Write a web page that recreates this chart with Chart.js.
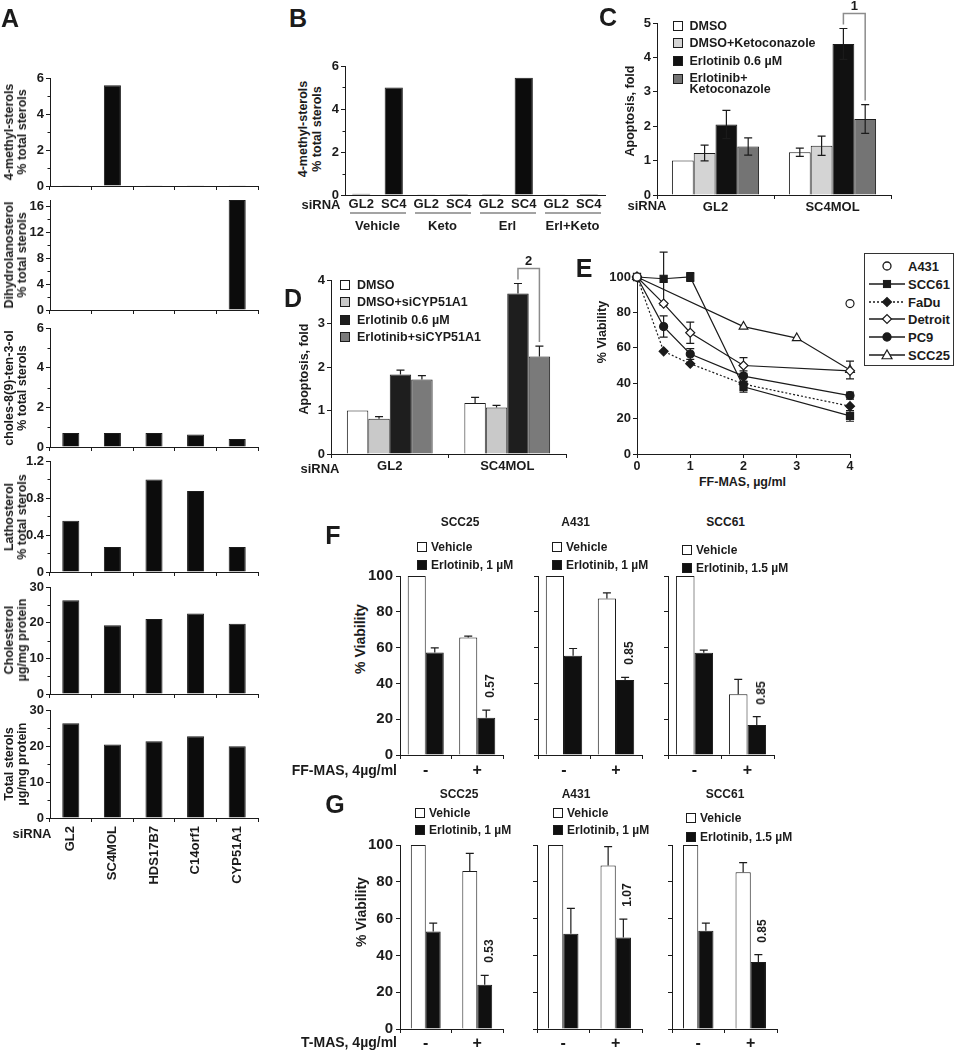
<!DOCTYPE html>
<html>
<head>
<meta charset="utf-8">
<title>Sterol panels</title>
<script src="https://cdn.jsdelivr.net/npm/chart.js@4.4.1/dist/chart.umd.min.js"></script>
<style>
  html, body { margin: 0; padding: 0; background: #fff; }
  #page { position: relative; width: 955px; height: 1050px; overflow: hidden; background: #fff; }
  #page canvas { position: absolute; }
  .lbl { position: absolute; white-space: nowrap; line-height: 1.05; color: #1b1b1b; text-align: center; }
  .sq { position: absolute; width: 10px; height: 10px; border: 1px solid #1b1b1b; box-sizing: border-box; }
</style>
</head>
<body>
<div id="page"></div>
<script>
// ---- A: sterol profiles per siRNA ----
const sirnaA = ['GL2', 'SC4MOL', 'HDS17B7', 'C14orf1', 'CYP51A1'];
const methylSterolsA = [0.04, 5.6, 0.04, 0.04, 0.04];
const dihydrolanosterolA = [0, 0, 0, 0, 17];
const cholesTenolA = [0.7, 0.7, 0.7, 0.63, 0.4];
const lathosterolA = [0.555, 0.27, 1.0, 0.875, 0.27];
const cholesterolA = [26.3, 19.3, 21.0, 22.6, 19.7];
const totalSterolsA = [26.3, 20.4, 21.3, 22.7, 19.9];

// ---- B: 4-methyl sterols with drugs ----
const sirnaB = ['GL2', 'SC4', 'GL2', 'SC4', 'GL2', 'SC4', 'GL2', 'SC4'];
const treatB = ['Vehicle', 'Keto', 'Erl', 'Erl+Keto'];
const methylSterolsB = [0.06, 5.0, 0.03, 0.05, 0.05, 5.45, 0.03, 0.05];

// ---- C / D: apoptosis ----
const sirnaCD = ['GL2', 'SC4MOL'];
const seriesC = ['DMSO', 'DMSO+Ketoconazole', 'Erlotinib 0.6 µM', 'Erlotinib+<br>Ketoconazole'];
const dmsoC = [1.0, 1.24], dmsoErrC = [0, 0.12];
const dmsoKetoC = [1.22, 1.43], dmsoKetoErrC = [0.23, 0.28];
const erlC = [2.05, 4.39], erlErrC = [0.41, 0.45];
const erlKetoC = [1.41, 2.21], erlKetoErrC = [0.25, 0.42];

const seriesD = ['DMSO', 'DMSO+siCYP51A1', 'Erlotinib 0.6 µM', 'Erlotinib+siCYP51A1'];
const dmsoD = [1.0, 1.17], dmsoErrD = [0, 0.13];
const dmsoSiD = [0.81, 1.07], dmsoSiErrD = [0.05, 0.05];
const erlD = [1.83, 3.69], erlErrD = [0.1, 0.23];
const erlSiD = [1.71, 2.24], erlSiErrD = [0.09, 0.24];

// ---- E: FF-MAS dose response ----
const doseE = [0, 0.5, 1, 2, 3, 4];
const cellsE = ['A431', 'SCC61', 'FaDu', 'Detroit', 'PC9', 'SCC25'];
const viabA431 = [100, null, null, null, null, 85];
const viabSCC61 = [100, 99, 100, 38, null, 21.5], errSCC61 = [0, 15, 2.5, 3, null, 3];
const viabFaDu = [100, 58, 51, 39.5, null, 27], errFaDu = [0, 0, 0, 0, null, 0];
const viabDetroit = [100, 85, 68.5, 50, null, 47], errDetroit = [0, 0, 6, 4.5, null, 0];
const viabPC9 = [100, 72, 56.5, 44, null, 33], errPC9 = [0, 6, 3, 3, null, 2];
const viabSCC25 = [100, null, null, 72, 65.5, 47.5], errSCC25 = [0, null, null, 0, 0, 5];

// ---- F / G: viability with sterol add-back ----
const linesFG = ['SCC25', 'A431', 'SCC61'];
const erlDoseFG = ['Erlotinib, 1 µM', 'Erlotinib, 1 µM', 'Erlotinib, 1.5 µM'];
const masFG = ['-', '+'];
const vehF = [[100, 65.7], [100, 87.4], [100, 34.0]];
const vehErrF = [[0, 0.7], [0, 3.2], [0, 8.2]];
const erlF = [[57.3, 20.8], [55.4, 41.9], [57.1, 16.7]];
const erlErrF = [[2.6, 4.3], [4.1, 1.5], [1.5, 4.7]];
const ratioF = ['0.57', '0.85', '0.85'];
const vehG = [[100, 85.9], [100, 88.8], [100, 85.2]];
const vehErrG = [[0, 9.6], [0, 10.3], [0, 5.2]];
const erlG = [[53.0, 24.1], [51.7, 49.7], [53.4, 36.4]];
const erlErrG = [[4.5, 5.0], [13.9, 10.0], [4.1, 4.0]];
const ratioG = ['0.53', '1.07', '0.85'];

// ---------------------------------------------------------------
const page = document.getElementById('page');
const INK = '#1b1b1b';
const SANS = '"Liberation Sans", Arial, Helvetica, sans-serif';
const NARROW = '"Liberation Sans Narrow", "Arial Narrow", "Liberation Sans", sans-serif';

function font(size, family) {
  return { family: family || SANS, size: size, weight: 'bold' };
}

function label(html, x, y, o) {
  o = o || {};
  const d = document.createElement('div');
  d.className = 'lbl';
  d.innerHTML = html;
  d.style.left = x + 'px';
  d.style.top = y + 'px';
  d.style.font = 'bold ' + (o.size || 13) + 'px ' + (o.family || SANS);
  if (o.lh) d.style.lineHeight = o.lh;
  const ax = o.align === 'left' ? '0' : (o.align === 'right' ? '-100%' : '-50%');
  d.style.textAlign = o.align || 'center';
  d.style.transform = 'translate(' + ax + ',-50%)' + (o.rot ? ' rotate(' + o.rot + 'deg)' : '');
  page.appendChild(d);
  return d;
}

function square(x, y, fill) {
  const s = document.createElement('div');
  s.className = 'sq';
  s.style.left = x + 'px';
  s.style.top = (y - 5) + 'px';
  s.style.background = fill;
  page.appendChild(s);
}

function hline(x0, x1, y, color, w) {
  const s = document.createElement('div');
  s.style.cssText = 'position:absolute;left:' + x0 + 'px;top:' + (y - w / 2) + 'px;width:' + (x1 - x0) + 'px;height:' + w + 'px;background:' + color;
  page.appendChild(s);
}

// canvas so that the plot area lands on rect = [left, top, right, bottom]
function canvasFor(rect, m) {
  const c = document.createElement('canvas');
  const w = Math.round(rect[2] - rect[0] + m.l + m.r);
  const h = Math.round(rect[3] - rect[1] + m.t + m.b);
  c.width = w; c.height = h;
  c.style.width = w + 'px'; c.style.height = h + 'px';
  c.style.left = (rect[0] - m.l) + 'px';
  c.style.top = (rect[1] - m.t) + 'px';
  page.appendChild(c);
  return c;
}

function offX(chart) { return parseFloat(chart.canvas.style.left); }
function offY(chart) { return parseFloat(chart.canvas.style.top); }

function yScale(min, max, step, width, o) {
  o = o || {};
  return {
    type: 'linear', min: min, max: max,
    border: { display: true, color: INK, width: 1 },
    grid: { display: true, drawOnChartArea: false, drawTicks: true, tickLength: 4, color: INK },
    ticks: { stepSize: step, includeBounds: false, display: o.labels !== false, color: INK, padding: o.pad == null ? 2 : o.pad, font: o.font || font(13) },
    afterFit: function (s) { s.width = width; s.paddingTop = 0; s.paddingBottom = 0; }
  };
}

function xCategory(height, o) {
  o = o || {};
  return {
    type: 'category', offset: true,
    border: { display: true, color: INK, width: 1 },
    grid: { display: true, offset: true, drawOnChartArea: false, drawTicks: o.ticks !== false, tickLength: 4, color: INK },
    ticks: { display: o.labels !== false, color: INK, padding: o.pad == null ? 2 : o.pad, autoSkip: false,
             maxRotation: o.rot || 0, minRotation: o.rot || 0, font: o.font || font(13) },
    afterFit: function (s) { s.height = height; s.paddingLeft = 0; s.paddingRight = 0; }
  };
}

function baseOptions(m, scales, pluginOpts) {
  const plugins = { legend: { display: false }, tooltip: { enabled: false } };
  Object.assign(plugins, pluginOpts || {});
  return {
    responsive: false, animation: false, devicePixelRatio: 1, events: [],
    layout: { padding: { top: m.t, right: m.r, left: 0, bottom: 0 } },
    plugins: plugins,
    scales: scales
  };
}

// error bars from dataset.err, drawn through the y scale
function drawErrors(chart, opts) {
  const ctx = chart.ctx, ys = chart.scales.y;
  chart.data.datasets.forEach(function (ds, di) {
    if (!ds.err) return;
    const meta = chart.getDatasetMeta(di);
    ctx.save();
    ctx.strokeStyle = INK;
    ctx.lineWidth = 1.2;
    meta.data.forEach(function (el, i) {
      const e = ds.err[i];
      if (!e) return;
      const raw = ds.data[i];
      const v = typeof raw === 'object' ? raw.y : raw;
      const cap = opts.cap || 4;
      const top = ys.getPixelForValue(v + e);
      const bot = opts.both ? ys.getPixelForValue(v - e) : el.y;
      ctx.beginPath();
      ctx.moveTo(el.x, top); ctx.lineTo(el.x, bot);
      ctx.moveTo(el.x - cap, top); ctx.lineTo(el.x + cap, top);
      if (opts.both) { ctx.moveTo(el.x - cap, bot); ctx.lineTo(el.x + cap, bot); }
      ctx.stroke();
    });
    ctx.restore();
  });
}
const errorBars = {
  id: 'errorBars',
  beforeDatasetsDraw: function (chart, args, opts) { if (opts.under) drawErrors(chart, opts); },
  afterDatasetsDraw: function (chart, args, opts) { if (!opts.under) drawErrors(chart, opts); }
};

// short unlabelled ticks half way between the labelled ones
const minorTicks = {
  id: 'minorTicks',
  afterDraw: function (chart, args, opts) {
    if (!opts.step) return;
    const ys = chart.scales.y, ctx = chart.ctx, x = chart.chartArea.left;
    ctx.save();
    ctx.strokeStyle = INK;
    ctx.lineWidth = 1;
    for (let v = opts.step; v < ys.max; v += 2 * opts.step) {
      const y = Math.round(ys.getPixelForValue(v)) + 0.5;
      ctx.beginPath(); ctx.moveTo(x - 2.5, y); ctx.lineTo(x, y); ctx.stroke();
    }
    ctx.restore();
  }
};

// significance bracket between two bars
function bracketGeom(chart, o) {
  const ys = chart.scales.y;
  function leg(p) {
    const ds = chart.data.datasets[p[0]];
    const el = chart.getDatasetMeta(p[0]).data[p[1]];
    return { x: el.x, y: ys.getPixelForValue(ds.data[p[1]] + (ds.err ? ds.err[p[1]] : 0)) - o.gap };
  }
  const a = leg(o.a), b = leg(o.b);
  return { a: a, b: b, top: Math.min(a.y, b.y) - o.rise };
}
const bracket = {
  id: 'bracket',
  afterDatasetsDraw: function (chart, args, opts) {
    if (!opts.a) return;
    const g = bracketGeom(chart, opts), ctx = chart.ctx;
    ctx.save();
    ctx.strokeStyle = '#8c8c8c';
    ctx.lineWidth = 1.5;
    ctx.beginPath();
    ctx.moveTo(g.a.x, g.a.y); ctx.lineTo(g.a.x, g.top); ctx.lineTo(g.b.x, g.top); ctx.lineTo(g.b.x, g.b.y);
    ctx.stroke();
    ctx.restore();
  }
};

// ================= Panel A =================
const valuesA = [methylSterolsA, dihydrolanosterolA, cholesTenolA, lathosterolA, cholesterolA, totalSterolsA];
const titlesA = [
  ['4-methyl-sterols', '% total sterols'],
  ['Dihydrolanosterol', '% total sterols'],
  ['choles-8(9)-ten-3-ol', '% total sterols'],
  ['Lathosterol', '% total sterols'],
  ['Cholesterol', 'µg/mg protein'],
  ['Total sterols', 'µg/mg protein']
];
const axisA = [[6, 2], [17, 4], [6, 2], [1.2, 0.4], [30, 10], [30, 10]];
const rowsA = [[78, 186], [200.2, 310], [328, 447], [461, 572], [586.7, 694], [710, 818.3]];

valuesA.forEach(function (vals, k) {
  const last = k === valuesA.length - 1;
  const m = { l: 50, r: 8, t: 10, b: last ? 70 : 8 };
  const rect = [50, rowsA[k][0], 257.5, rowsA[k][1]];
  new Chart(canvasFor(rect, m), {
    type: 'bar',
    data: { labels: sirnaA, datasets: [{ data: vals, backgroundColor: '#0c0c0c', borderColor: INK, borderWidth: 1, barPercentage: 0.41, categoryPercentage: 1 }] },
    options: baseOptions(m, {
      x: xCategory(m.b, { labels: last, rot: 90, pad: 4 }),
      y: yScale(0, axisA[k][0], axisA[k][1], m.l)
    }, { minorTicks: { step: axisA[k][1] / 2 } }),
    plugins: [minorTicks]
  });
  label(titlesA[k].join('<br>'), 15.5, (rect[1] + rect[3]) / 2, { rot: -90, size: 12.5, lh: '13px' });
});
label('A', 10, 18, { size: 25 });
label('siRNA', 32, 833, { size: 13 });

// ================= Panel B =================
(function () {
  const m = { l: 16, r: 6, t: 10, b: 36 };
  const rect = [345, 66, 605, 195];
  const ch = new Chart(canvasFor(rect, m), {
    type: 'bar',
    data: { labels: sirnaB, datasets: [{ data: methylSterolsB, backgroundColor: '#0c0c0c', borderColor: INK, borderWidth: 1, barPercentage: 0.56, categoryPercentage: 1 }] },
    options: baseOptions(m, {
      x: xCategory(m.b, { ticks: false, pad: 2 }),
      y: yScale(0, 6, 2, m.l)
    }, { minorTicks: { step: 1 } }),
    plugins: [minorTicks]
  });
  const xs = ch.scales.x, ox = offX(ch);
  treatB.forEach(function (name, g) {
    const x0 = ox + xs.getPixelForValue(2 * g), x1 = ox + xs.getPixelForValue(2 * g + 1);
    hline(x0 - 11, x1 + 12, 212.5, '#a3a3a3', 2);
    label(name, (x0 + x1) / 2, 225, { size: 13 });
  });
  label('B', 298, 18, { size: 25 });
  label('4-methyl-sterols<br>% total sterols', 309.5, 129, { rot: -90, size: 12.5, lh: '14px' });
  label('siRNA', 321, 204, { size: 13 });
})();

// ================= Panel C / D =================
function apoptosisPanel(cfg) {
  const m = cfg.m, rect = cfg.rect;
  const ch = new Chart(canvasFor(rect, m), {
    type: 'bar',
    data: {
      labels: sirnaCD,
      datasets: cfg.values.map(function (v, i) {
        return { label: cfg.names[i], data: v, err: cfg.errs[i], backgroundColor: cfg.colors[i], borderColor: INK, borderWidth: 1,
                 barPercentage: 1, categoryPercentage: cfg.catPct };
      })
    },
    options: baseOptions(m, {
      x: xCategory(m.b, { pad: 1 }),
      y: yScale(0, cfg.max, 1, m.l)
    }, { errorBars: { both: cfg.both, cap: 4 }, bracket: cfg.bracket }),
    plugins: [errorBars, bracket]
  });
  const g = bracketGeom(ch, cfg.bracket);
  label(cfg.bracketText, offX(ch) + (g.a.x + g.b.x) / 2, offY(ch) + g.top - 8, { size: 13 });
  cfg.names.forEach(function (n, i) {
    square(cfg.legend[0], cfg.legend[1] + i * cfg.legend[2], cfg.colors[i]);
    label(n, cfg.legend[0] + 17, cfg.legend[1] + i * cfg.legend[2] + (n.indexOf('<br>') > 0 ? 5 : 0), { align: 'left', size: 12.5, lh: '11px' });
  });
  return ch;
}

apoptosisPanel({
  rect: [657, 22.7, 891, 194.3], m: { l: 30, r: 6, t: 22, b: 22 }, max: 5,
  names: seriesC, values: [dmsoC, dmsoKetoC, erlC, erlKetoC], errs: [dmsoErrC, dmsoKetoErrC, erlErrC, erlKetoErrC],
  colors: ['#ffffff', '#d4d4d4', '#111111', '#747474'], catPct: 0.745, both: true,
  bracket: { a: [2, 1], b: [3, 1], gap: 4, rise: 11 }, bracketText: '1',
  legend: [672.5, 25.7, 17.7]
});
label('C', 608, 17, { size: 25 });
label('Apoptosis, fold', 629.5, 111, { rot: -90, size: 12.5 });
label('siRNA', 647, 205, { size: 13 });

apoptosisPanel({
  rect: [331, 279.5, 566, 453.3], m: { l: 26, r: 6, t: 26, b: 22 }, max: 4,
  names: seriesD, values: [dmsoD, dmsoSiD, erlD, erlSiD], errs: [dmsoErrD, dmsoSiErrD, erlErrD, erlSiErrD],
  colors: ['#ffffff', '#c9c9c9', '#1e1e1e', '#7a7a7a'], catPct: 0.73, both: false,
  bracket: { a: [2, 1], b: [3, 1], gap: 4, rise: 11 }, bracketText: '2',
  legend: [340, 285, 17.3]
});
label('D', 293, 298, { size: 25 });
label('Apoptosis, fold', 303.5, 369, { rot: -90, size: 12.5 });
label('siRNA', 320, 468, { size: 13 });

// ================= Panel E =================
const styleE = {
  A431:    { pt: 'circle',   fill: false, line: false, r: 4 },
  SCC61:   { pt: 'rect',     fill: true,  line: true,  r: 5 },
  FaDu:    { pt: 'rectRot',  fill: true,  line: true,  r: 4.5, dash: [2, 2] },
  Detroit: { pt: 'rectRot',  fill: false, line: true,  r: 4.5 },
  PC9:     { pt: 'circle',   fill: true,  line: true,  r: 4 },
  SCC25:   { pt: 'triangle', fill: false, line: true,  r: 5 }
};
(function () {
  const viab = [viabA431, viabSCC61, viabFaDu, viabDetroit, viabPC9, viabSCC25];
  const errs = [null, errSCC61, errFaDu, errDetroit, errPC9, errSCC25];
  const m = { l: 40, r: 12, t: 30, b: 20 };
  const rect = [636.7, 276.7, 850, 454];
  const datasets = cellsE.map(function (name, k) {
    const st = styleE[name], pts = [], err = [];
    doseE.forEach(function (d, i) {
      if (viab[k][i] == null) return;
      pts.push({ x: d, y: viab[k][i] });
      err.push(errs[k] ? errs[k][i] : 0);
    });
    return {
      label: name, data: pts, err: err, showLine: st.line, borderColor: INK, borderWidth: 1.2, borderDash: st.dash || [],
      pointStyle: st.pt, pointRadius: st.r, pointBackgroundColor: st.fill ? INK : '#ffffff', pointBorderColor: INK,
      pointBorderWidth: 1.2, clip: false, tension: 0
    };
  });
  const xOpts = {
    type: 'linear', min: 0, max: 4,
    border: { display: true, color: INK, width: 1 },
    grid: { display: true, drawOnChartArea: false, drawTicks: true, tickLength: 4, color: INK },
    ticks: { stepSize: 1, color: INK, padding: 1, font: font(12.5) },
    afterFit: function (s) { s.height = m.b; s.paddingLeft = 0; s.paddingRight = 0; }
  };
  new Chart(canvasFor(rect, m), {
    type: 'scatter',
    data: { datasets: datasets },
    options: baseOptions(m, { x: xOpts, y: yScale(0, 100, 20, m.l, { font: font(13) }) }, { errorBars: { both: true, cap: 4, under: true } }),
    plugins: [errorBars]
  });

  // legend box
  const box = document.createElement('div');
  box.style.cssText = 'position:absolute;left:864px;top:253px;width:90px;height:113px;border:1px solid #333;box-sizing:border-box;';
  page.appendChild(box);
  cellsE.forEach(function (name, k) {
    const st = styleE[name], y = 266 + k * 17.8;
    const w = 36, cx = 18, cy = 7, f = st.fill ? INK : '#fff', r = st.r;
    let s = '<svg width="' + w + '" height="14" style="position:absolute;left:869px;top:' + (y - 7) + 'px">';
    if (st.line) s += '<line x1="0" y1="' + cy + '" x2="' + w + '" y2="' + cy + '" stroke="' + INK + '" stroke-width="1.3"' + (st.dash ? ' stroke-dasharray="2,2"' : '') + '/>';
    if (st.pt === 'circle') s += '<circle cx="' + cx + '" cy="' + cy + '" r="' + r + '" fill="' + f + '" stroke="' + INK + '" stroke-width="1.3"/>';
    if (st.pt === 'rect') s += '<rect x="' + (cx - r * 0.71) + '" y="' + (cy - r * 0.71) + '" width="' + (r * 1.42) + '" height="' + (r * 1.42) + '" fill="' + f + '" stroke="' + INK + '"/>';
    if (st.pt === 'rectRot') s += '<polygon points="' + (cx - r) + ',' + cy + ' ' + cx + ',' + (cy - r) + ' ' + (cx + r) + ',' + cy + ' ' + cx + ',' + (cy + r) + '" fill="' + f + '" stroke="' + INK + '" stroke-width="1.2"/>';
    if (st.pt === 'triangle') s += '<polygon points="' + (cx - r) + ',' + (cy + r * 0.75) + ' ' + cx + ',' + (cy - r) + ' ' + (cx + r) + ',' + (cy + r * 0.75) + '" fill="' + f + '" stroke="' + INK + '" stroke-width="1.2"/>';
    s += '</svg>';
    page.insertAdjacentHTML('beforeend', s);
    label(name, 908, y, { align: 'left', size: 13 });
  });
  label('E', 584, 268, { size: 25 });
  label('% Viability', 601.5, 332, { rot: -90, size: 12.5 });
  label('FF-MAS, µg/ml', 742.5, 482, { size: 12.5 });
})();

// ================= Panels F / G =================
function viabilityRow(cfg) {
  linesFG.forEach(function (cell, k) {
    const first = k === 0;
    const m = { l: first ? 32 : 6, r: 6, t: 8, b: cfg.mb };
    const rect = [cfg.xs[k][0], cfg.top, cfg.xs[k][1], cfg.bottom];
    const ch = new Chart(canvasFor(rect, m), {
      type: 'bar',
      data: {
        labels: masFG,
        datasets: [
          { label: 'Vehicle', data: cfg.veh[k], err: cfg.vehErr[k], backgroundColor: '#ffffff', borderColor: INK, borderWidth: 1, barPercentage: 1, categoryPercentage: cfg.catPct },
          { label: erlDoseFG[k], data: cfg.erl[k], err: cfg.erlErr[k], backgroundColor: '#101010', borderColor: INK, borderWidth: 1, barPercentage: 1, categoryPercentage: cfg.catPct }
        ]
      },
      options: baseOptions(m, {
        x: xCategory(m.b, { pad: cfg.xpad, font: font(16, NARROW) }),
        y: yScale(0, 100, 20, m.l, { labels: first, font: font(15, NARROW), pad: 3 })
      }, { errorBars: { both: false, cap: 4 } }),
      plugins: [errorBars]
    });
    // fold-change note above the erlotinib + sterol bar
    const el = ch.getDatasetMeta(1).data[1];
    const topPx = ch.scales.y.getPixelForValue(cfg.erl[k][1] + cfg.erlErr[k][1]);
    label(cfg.ratio[k], offX(ch) + el.x + 4, offY(ch) + topPx - 24, { rot: -90, size: 12 });
    label(cell, cfg.title[k], cfg.titleY, { size: 12 });
    square(cfg.leg[k][0], cfg.leg[k][1], '#ffffff');
    label('Vehicle', cfg.leg[k][0] + 14, cfg.leg[k][1], { align: 'left', size: 12 });
    square(cfg.leg[k][0], cfg.leg[k][2], '#101010');
    label(erlDoseFG[k], cfg.leg[k][0] + 14, cfg.leg[k][2], { align: 'left', size: 12 });
  });
}

viabilityRow({
  top: 576, bottom: 755, mb: 22, xpad: 2, catPct: 0.7,
  xs: [[400, 503], [538, 642], [668, 774]],
  veh: vehF, vehErr: vehErrF, erl: erlF, erlErr: erlErrF, ratio: ratioF,
  title: [460, 575.7, 725.7], titleY: 521.7,
  leg: [[417, 546.7, 565], [552, 546.7, 565], [682, 550, 568.3]]
});
label('F', 333, 535, { size: 25 });
label('% Viability', 360, 639, { rot: -90, size: 14, family: NARROW });
label('FF-MAS, 4µg/ml', 397, 770, { align: 'right', size: 14, family: NARROW });

viabilityRow({
  top: 845, bottom: 1029.3, mb: 20, xpad: 1, catPct: 0.58,
  xs: [[400, 503], [537, 642], [671.6, 777]],
  veh: vehG, vehErr: vehErrG, erl: erlG, erlErr: erlErrG, ratio: ratioG,
  title: [459, 576, 725], titleY: 794,
  leg: [[415, 813.3, 830], [553, 813.3, 830], [686, 817.7, 836.7]]
});
label('G', 335, 804, { size: 25 });
label('% Viability', 361, 912, { rot: -90, size: 14, family: NARROW });
label('T-MAS, 4µg/ml', 397, 1042, { align: 'right', size: 14, family: NARROW });
</script>
</body>
</html>
